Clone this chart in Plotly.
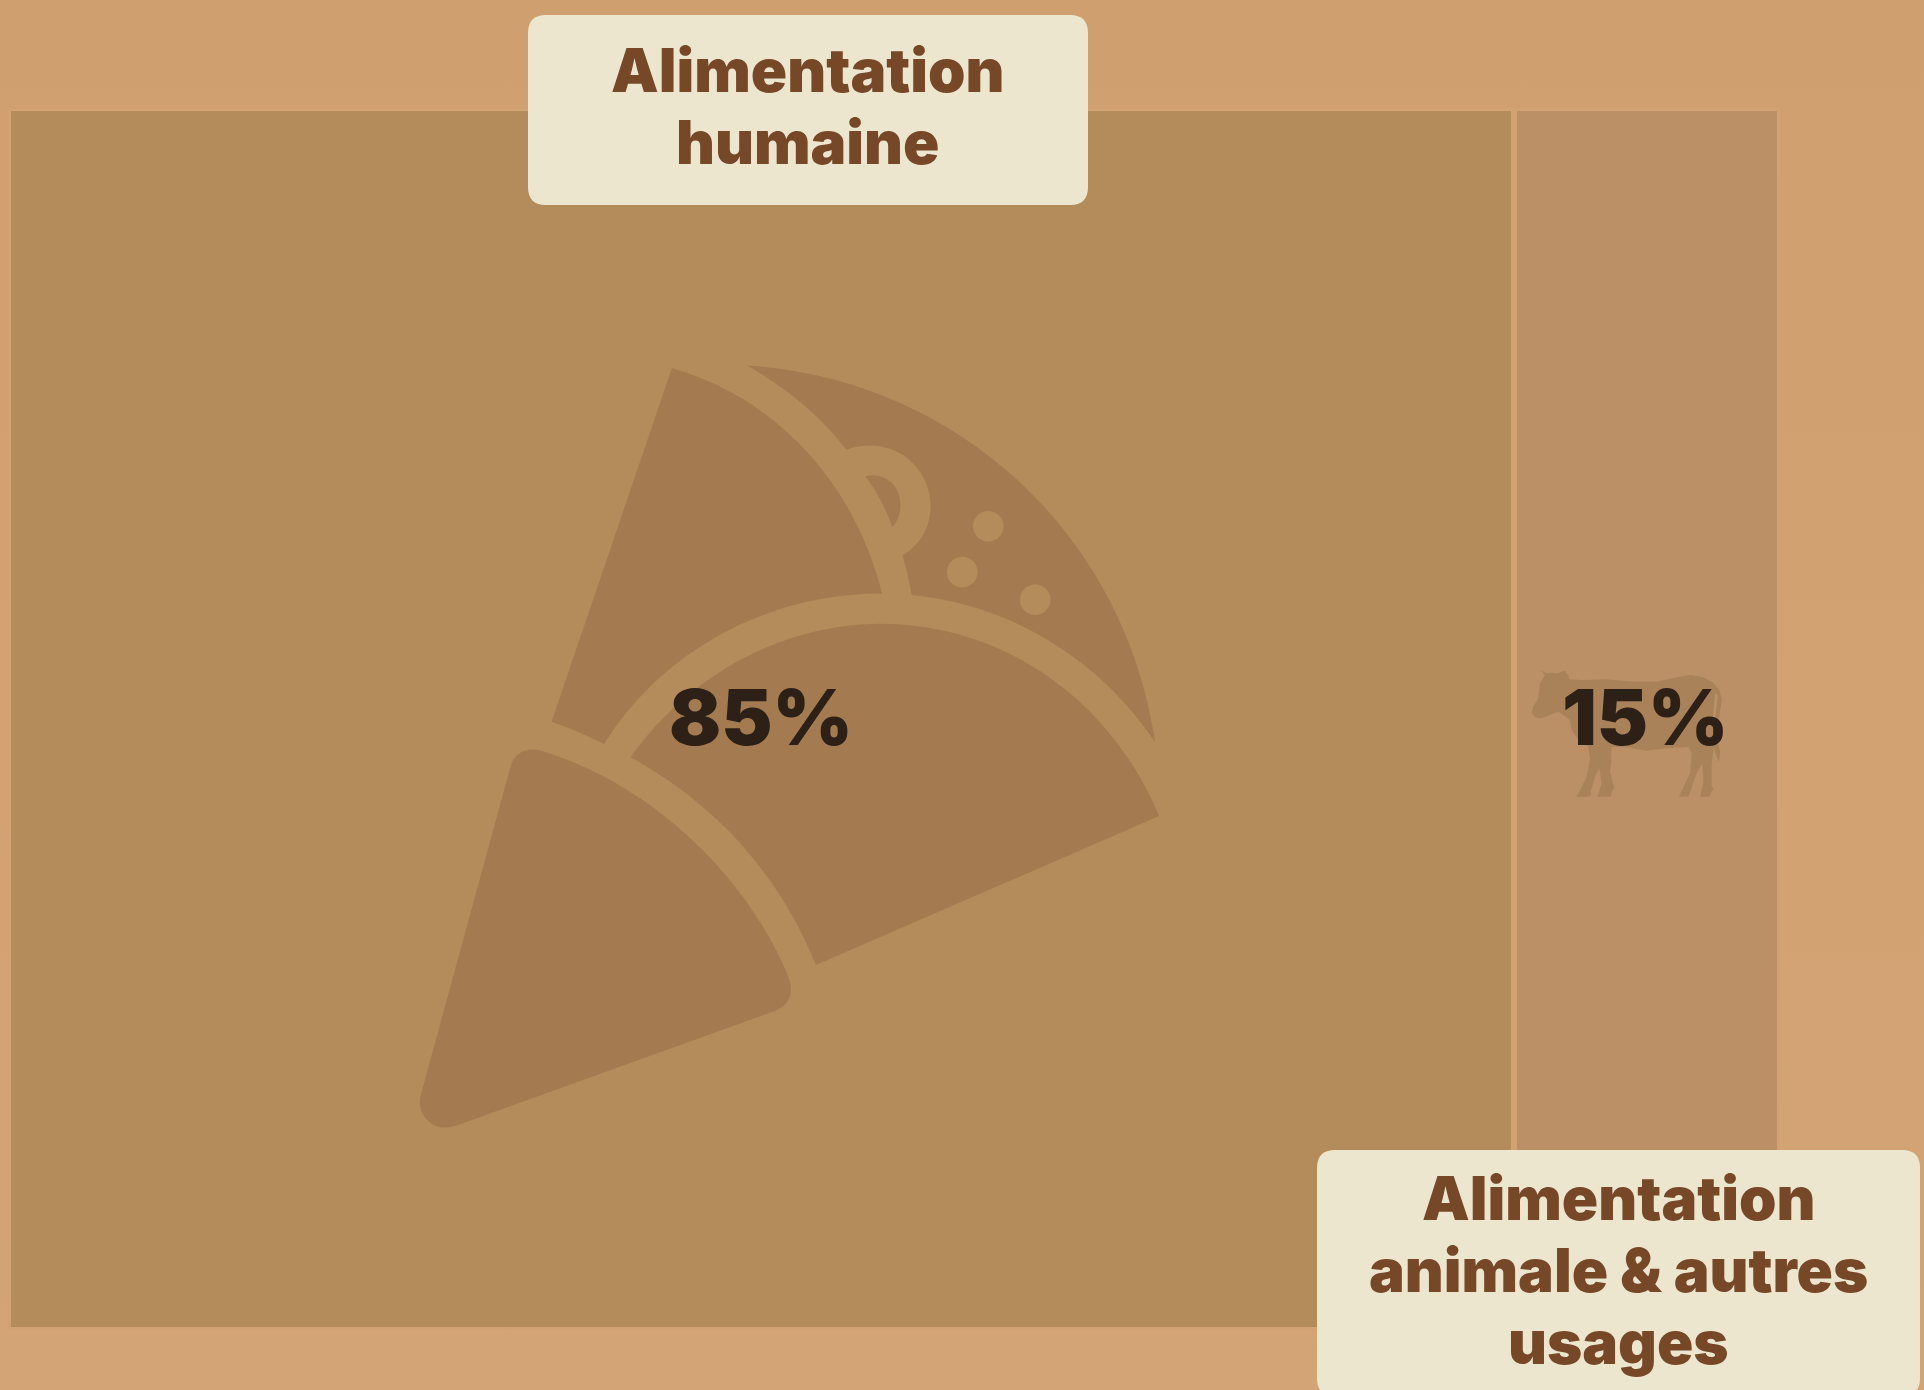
import re
import plotly.graph_objects as go

# Shares of production by use
categories = ["Alimentation humaine", "Alimentation animale & autres usages"]
shares = [85, 15]
share_labels = ["85%", "15%"]
cell_colors = ["#b48b5a", "#bb9067"]

WIDTH, HEIGHT = 1924, 1390
GAP = 6
BACKGROUND_STOPS = [[0, "#d3a475"], [1, "#d09f70"]]
ICON_COLOR = "#a47b50"
COW_COLOR = "#a98259"
BOX_COLOR = "#ede6cf"
BOX_TEXT = "#774827"
VALUE_TEXT = "#2d2117"
FONT = "Inter"


def place(path, scale, dx, dy):
    """Move an icon path, written in its own drawing units, onto the page."""
    numbers = iter(re.findall(r"-?\d+\.?\d*|[A-Za-z]", path))
    out, is_x = [], True
    for token in numbers:
        if token.isalpha():
            out.append(token)
            is_x = True
        else:
            value = float(token)
            out.append(f"{value * scale + (dx if is_x else dy):.2f}")
            is_x = not is_x
    return " ".join(out)


def circle(cx, cy, r):
    k = 0.5523 * r
    return (f"M {cx - r} {cy} C {cx - r} {cy - k} {cx - k} {cy - r} {cx} {cy - r} "
            f"C {cx + k} {cy - r} {cx + r} {cy - k} {cx + r} {cy} "
            f"C {cx + r} {cy + k} {cx + k} {cy + r} {cx} {cy + r} "
            f"C {cx - k} {cy + r} {cx - r} {cy + k} {cx - r} {cy} Z")


def rounded_box(x0, y0, x1, y1, r):
    return (f"M {x0 + r} {y0} L {x1 - r} {y0} Q {x1} {y0} {x1} {y0 + r} "
            f"L {x1} {y1 - r} Q {x1} {y1} {x1 - r} {y1} L {x0 + r} {y1} "
            f"Q {x0} {y1} {x0} {y1 - r} L {x0} {y0 + r} Q {x0} {y0} {x0 + r} {y0} Z")


# Pastry icon, in drawing units
PASTRY_PARTS = [
    # lower cone
    "M 42 1475 L 217 835 Q 228 798 270 803 C 470 860 670 1030 760 1245 "
    "Q 780 1295 735 1315 L 110 1540 Q 70 1552 50 1525 Q 33 1505 42 1475 Z",
    # middle fold
    "M 452 818 C 570 650 760 556 940 556 C 1180 556 1390 700 1488 933 "
    "L 815 1225 C 745 1050 620 910 452 818 Z",
    # upper left fold
    "M 533 55 C 740 115 890 280 945 497 C 730 497 520 600 400 792 "
    "Q 350 766 297 748 Z",
    # upper right fold with its ring cut-out and three dots
    "M 680 50 C 1090 75 1420 380 1480 788 C 1370 625 1200 520 1003 500 "
    "Q 996 460 985 422 C 1020 402 1040 365 1040 325 C 1040 260 987 207 922 207 "
    "Q 897 207 875 215 C 825 150 760 95 680 50 Z "
    + circle(1153, 365, 30) + " " + circle(1102, 455, 30) + " " + circle(1245, 509, 30),
    # small wedge inside the ring
    "M 912 267 C 950 258 981 285 981 325 Q 980 350 965 367 Q 945 310 912 267 Z",
]

# Cow silhouette, in drawing units, with the slit between tail and rump
COW_PATH = (
    "M 124 92 L 140 100 L 155 98 L 175 100 L 183 95 L 195 93 L 205 105 L 208 118 "
    "L 250 120 L 320 118 L 400 125 L 470 125 L 530 112 L 570 105 L 610 112 L 640 128 "
    "L 660 155 L 665 180 L 658 230 L 650 290 L 660 335 L 657 365 L 650 350 L 642 320 "
    "L 635 370 L 635 440 L 640 445 L 628 470 L 600 470 L 610 430 L 607 370 L 590 400 "
    "L 565 470 L 537 470 L 570 400 L 575 340 L 565 320 L 500 325 L 440 332 L 380 322 "
    "L 335 320 L 333 370 L 330 395 L 340 435 L 343 445 L 335 455 L 333 470 L 292 470 "
    "L 305 430 L 298 385 L 285 410 L 272 455 L 275 465 L 262 470 L 230 470 L 260 410 "
    "L 270 360 L 265 320 L 235 300 L 215 270 L 210 240 L 190 225 L 175 215 L 150 225 "
    "L 125 235 L 105 232 L 95 218 L 100 200 L 115 175 L 120 130 L 135 105 Z "
    "M 645 160 L 654 165 L 646 235 L 638 240 Z"
)

fig = go.Figure()

# Full-page gradient backdrop on a pixel-sized axis pair
fig.add_trace(go.Scatter(
    x=[0, WIDTH, WIDTH, 0, 0], y=[0, 0, HEIGHT, HEIGHT, 0],
    mode="lines", line=dict(width=0), fill="toself", hoverinfo="skip",
    fillgradient=dict(type="vertical", colorscale=BACKGROUND_STOPS),
    showlegend=False,
))

# The two shares as a single stacked band
for name, share, color in zip(categories, shares, cell_colors):
    fig.add_trace(go.Bar(
        x=[share], y=[0], name=name, orientation="h", width=1,
        marker=dict(color=color, cornerradius=5,
                    line=dict(color="#d2a272", width=GAP)),
        xaxis="x2", yaxis="y2", showlegend=False,
    ))

shapes = []
for part in PASTRY_PARTS:
    shapes.append(dict(type="path", path=place(part, 1 / 1.96, 400, 340),
                       xref="x", yref="y", fillcolor=ICON_COLOR,
                       line=dict(width=0), layer="above"))
shapes.append(dict(type="path", path=place(COW_PATH, 1 / 3, 1500, 640),
                   xref="x", yref="y", fillcolor=COW_COLOR,
                   line=dict(width=0), layer="above"))
for box in [(528, 15, 1088, 205), (1317, 1150, 1920, 1396)]:
    shapes.append(dict(type="path", path=rounded_box(*box, 18), xref="x", yref="y",
                       fillcolor=BOX_COLOR, line=dict(width=0), layer="above"))


def text(x, baseline, string, size, color):
    return dict(x=x, y=baseline, xref="x", yref="y", text=string, showarrow=False,
                xanchor="center", yanchor="bottom", yshift=-0.235 * size,
                font=dict(family=FONT, size=size, color=color, weight=900))


LABEL_SIZE = 60
VALUE_SIZE = 77
annotations = [
    text(807, 94, "Alimentation", LABEL_SIZE, BOX_TEXT),
    text(807, 166, "humaine", LABEL_SIZE, BOX_TEXT),
    text(1618, 1222, "Alimentation", LABEL_SIZE, BOX_TEXT),
    text(1618, 1294, "animale &amp; autres", LABEL_SIZE, BOX_TEXT),
    text(1618, 1366, "usages", LABEL_SIZE, BOX_TEXT),
    text(761, 748, share_labels[0], VALUE_SIZE, VALUE_TEXT),
    text(1645, 748, share_labels[1], VALUE_SIZE, VALUE_TEXT),
]

fig.update_layout(
    width=WIDTH, height=HEIGHT, autosize=False,
    margin=dict(l=0, r=0, t=0, b=0),
    paper_bgcolor="#d2a272", plot_bgcolor="rgba(0,0,0,0)",
    barmode="stack", bargap=0, showlegend=False,
    xaxis=dict(range=[0, WIDTH], visible=False, domain=[0, 1], fixedrange=True),
    yaxis=dict(range=[HEIGHT, 0], visible=False, domain=[0, 1], fixedrange=True),
    xaxis2=dict(range=[0, sum(shares)], visible=False, anchor="y2",
                domain=[8 / WIDTH, 1780 / WIDTH], fixedrange=True),
    yaxis2=dict(range=[-0.5, 0.5], visible=False, anchor="x2",
                domain=[1 - 1330 / HEIGHT, 1 - 108 / HEIGHT], fixedrange=True),
    shapes=shapes, annotations=annotations,
)

fig.write_html("out.html", config=dict(displayModeBar=False))
